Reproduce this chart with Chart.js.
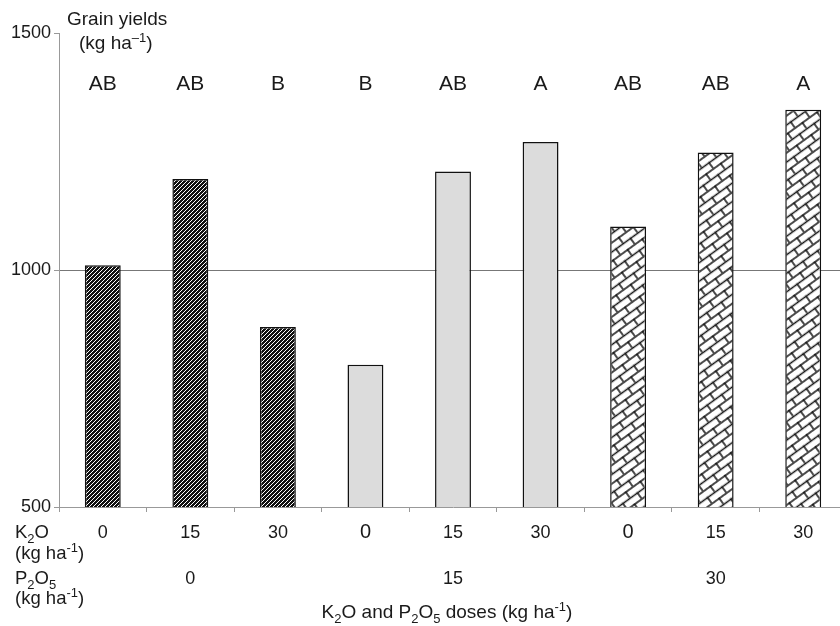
<!DOCTYPE html>
<html>
<head>
<meta charset="utf-8">
<script src="https://cdn.jsdelivr.net/npm/chart.js@4"></script>
<style>
  html, body { margin: 0; padding: 0; background: #fff; overflow: hidden; }
  #chart { display: block; }
</style>
</head>
<body>
<canvas id="chart" width="847" height="626"></canvas>
<script>
// K2O doses for each bar, P2O5 group labels, yields and letters
const k2oDoses = ['0', '15', '30', '0', '15', '30', '0', '15', '30'];
const p2o5Doses = ['', '0', '', '', '15', '', '', '30', ''];
const grainYields = [1010, 1192, 880, 800, 1208, 1270, 1092, 1248, 1338];
const letters = ['AB', 'AB', 'B', 'B', 'AB', 'A', 'AB', 'AB', 'A'];
const fillKinds = ['hatch', 'hatch', 'hatch', 'grey', 'grey', 'grey', 'brick', 'brick', 'brick'];
const yTicks = [500, 1000, 1500];

const FONT = 'Liberation Sans, Arial, sans-serif';
const TEXT_COLOR = '#1a1a1a';
// the two first-of-group zeros are set a bit larger in the original
const doseFontSize = [18, 18, 18, 20, 18, 18, 20, 18, 18];

function hatchPattern() {
    const c = document.createElement('canvas');
    c.width = 4; c.height = 4;
    const g = c.getContext('2d');
    g.fillStyle = '#111';
    g.fillRect(0, 0, 4, 4);
    g.strokeStyle = '#fff';
    g.lineWidth = 1;
    g.beginPath();
    g.moveTo(0, 4); g.lineTo(4, 0);
    g.moveTo(-1, 1); g.lineTo(1, -1);
    g.moveTo(3, 5); g.lineTo(5, 3);
    g.stroke();
    return g.createPattern(c, 'repeat');
}

function brickPattern() {
    const w = 18, h = 15;
    const c = document.createElement('canvas');
    c.width = w; c.height = h;
    const g = c.getContext('2d');
    g.fillStyle = '#fff';
    g.fillRect(0, 0, w, h);
    g.strokeStyle = '#111';
    g.lineWidth = 1.5;
    g.beginPath();
    g.moveTo(0, 1); g.lineTo(w, 1);
    g.moveTo(0, h / 2 + 1); g.lineTo(w, h / 2 + 1);
    g.moveTo(1, 0); g.lineTo(1, h / 2);
    g.moveTo(w / 2 + 1, h / 2); g.lineTo(w / 2 + 1, h);
    g.stroke();
    const p = g.createPattern(c, 'repeat');
    p.setTransform(new DOMMatrix().rotate(-36));
    return p;
}

const fills = { hatch: hatchPattern(), grey: '#dcdcdc', brick: brickPattern() };

// draws text made of normal / sub / sup parts
function drawRich(ctx, parts, x, y, size, align) {
    const small = Math.round(size * 0.68);
    let total = 0;
    parts.forEach(p => {
        ctx.font = (p.sub || p.sup ? small : size) + 'px ' + FONT;
        p.w = ctx.measureText(p.t).width;
        total += p.w;
    });
    let cx = align === 'center' ? x - total / 2 : x;
    ctx.textAlign = 'left';
    parts.forEach(p => {
        ctx.font = (p.sub || p.sup ? small : size) + 'px ' + FONT;
        let dy = 0;
        if (p.sub) dy = size * 0.28;
        if (p.sup) dy = -size * 0.38;
        ctx.fillText(p.t, cx, y + dy);
        cx += p.w;
    });
}

const labelsPlugin = {
    id: 'labels',
    afterDraw(chart) {
        const ctx = chart.ctx;
        const x = chart.scales.x;
        ctx.save();
        ctx.fillStyle = TEXT_COLOR;
        ctx.textBaseline = 'alphabetic';

        // y axis title
        drawRich(ctx, [{ t: 'Grain yields' }], 67, 25, 19, 'left');
        drawRich(ctx, [{ t: '(kg ha' }, { t: '\u2013', sup: true }, { t: '1', sup: true }, { t: ')' }], 79, 49, 19, 'left');

        // letters above bars
        ctx.font = '21px ' + FONT;
        ctx.textAlign = 'center';
        letters.forEach((l, i) => {
            ctx.fillText(l, x.getPixelForValue(i), 90);
        });

        // K2O and P2O5 rows
        drawRich(ctx, [{ t: 'K' }, { t: '2', sub: true }, { t: 'O' }], 15, 538, 18.5, 'left');
        drawRich(ctx, [{ t: '(kg ha' }, { t: '-1', sup: true }, { t: ')' }], 15, 559, 18.5, 'left');
        drawRich(ctx, [{ t: 'P' }, { t: '2', sub: true }, { t: 'O' }, { t: '5', sub: true }], 15, 584, 18.5, 'left');
        drawRich(ctx, [{ t: '(kg ha' }, { t: '-1', sup: true }, { t: ')' }], 15, 604, 18.5, 'left');

        ctx.textAlign = 'center';
        k2oDoses.forEach((d, i) => {
            ctx.font = doseFontSize[i] + 'px ' + FONT;
            ctx.fillText(d, x.getPixelForValue(i), 538);
        });
        ctx.font = '18px ' + FONT;
        p2o5Doses.forEach((d, i) => {
            if (!d) return;
            ctx.fillText(d, x.getPixelForValue(i), 584);
        });

        // x axis title
        drawRich(ctx, [{ t: 'K' }, { t: '2', sub: true }, { t: 'O and P' }, { t: '2', sub: true }, { t: 'O' }, { t: '5', sub: true },
            { t: ' doses (kg ha' }, { t: '-1', sup: true }, { t: ')' }], 447, 618, 19, 'center');
        ctx.restore();
    }
};

new Chart(document.getElementById('chart'), {
    type: 'bar',
    data: {
        labels: k2oDoses.map((d, i) => i),
        datasets: [{
            data: grainYields,
            backgroundColor: fillKinds.map(k => fills[k]),
            borderColor: '#111',
            borderWidth: 1.5,
            barPercentage: 0.41,
            categoryPercentage: 1
        }]
    },
    options: {
        responsive: false,
        devicePixelRatio: 1,
        animation: false,
        layout: { padding: { top: 33, right: 0, left: 0, bottom: 0 } },
        plugins: { legend: { display: false }, tooltip: { enabled: false } },
        scales: {
            x: {
                type: 'category',
                ticks: { display: false },
                grid: { display: true, offset: true, drawOnChartArea: false, drawTicks: true, tickLength: 5, color: '#999' },
                border: { display: true, color: '#999', width: 1 },
                afterFit: s => { s.height = 119; }
            },
            y: {
                min: 500,
                max: 1500,
                afterBuildTicks: s => { s.ticks = yTicks.map(v => ({ value: v })); },
                ticks: {
                    font: { size: 18, family: FONT },
                    color: TEXT_COLOR,
                    padding: 3,
                    callback: v => String(v)
                },
                grid: {
                    color: c => (c.tick && c.tick.value === 1000 ? '#777' : 'rgba(0,0,0,0)'),
                    tickColor: '#999',
                    drawTicks: true,
                    tickLength: 5
                },
                border: { display: true, color: '#999', width: 1 },
                afterFit: s => { s.width = 59; }
            }
        }
    },
    plugins: [labelsPlugin]
});
</script>
</body>
</html>
